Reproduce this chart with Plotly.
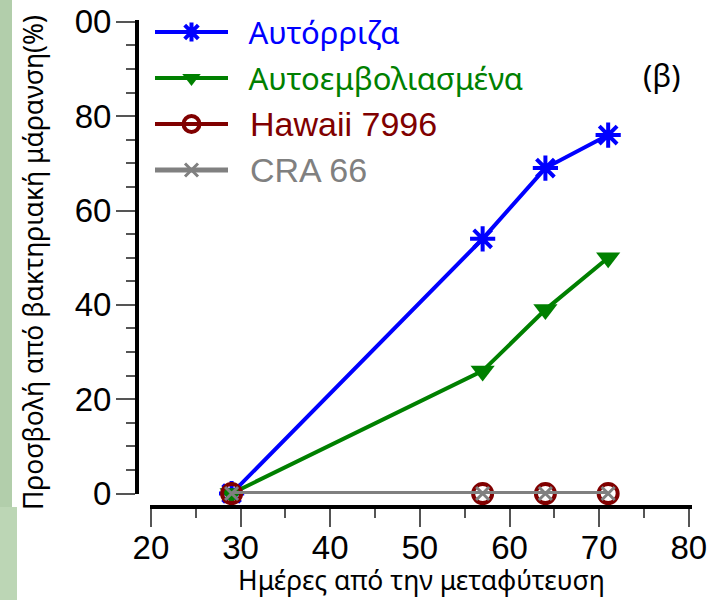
import plotly.graph_objects as go

W, H = 719, 600

days = [29, 57, 64, 71]
series_names = ["Αυτόρριζα", "Αυτοεμβολιασμένα", "Hawaii 7996", "CRA 66"]
own_roots = [0, 54, 69, 76]
grafted = [0, 26, 39, 50]
hawaii = [0, 0, 0, 0]
cra66 = [0, 0, 0, 0]

x_ticks = [20, 30, 40, 50, 60, 70, 80]
x_ticktext = ["20", "30", "40", "50", "60", "70", "80"]
y_ticks = [0, 20, 40, 60, 80, 100]
y_ticktext = ["0", "20", "40", "60", "80", "00"]

GREEK = "Noto Sans"
LATIN = "Liberation Sans, Arial"

colors = ["#0000FF", "#008000", "#800000", "#808080"]


def span(txt, color, family, size):
    return f"<span style='color:{color};font-family:{family};font-size:{size}px'>\u2002{txt}</span>"


fig = go.Figure()
fig.add_trace(go.Scatter(
    x=days, y=own_roots, mode="lines+markers",
    name=span(series_names[0], colors[0], GREEK, 31), legendgroup="a",
    line=dict(color=colors[0], width=4),
    marker=dict(symbol="asterisk-open", size=21, line=dict(color=colors[0], width=4)),
    cliponaxis=False,
))
fig.add_trace(go.Scatter(
    x=days, y=grafted, mode="lines+markers",
    name=span(series_names[1], colors[1], GREEK, 31), legendgroup="b",
    line=dict(color=colors[1], width=4),
    marker=dict(symbol="triangle-down", size=21, color=colors[1]),
    cliponaxis=False,
))
fig.add_trace(go.Scatter(
    x=days, y=hawaii, mode="lines+markers",
    name=span(series_names[2], colors[2], LATIN, 34), legendgroup="c",
    line=dict(color=colors[2], width=4),
    marker=dict(symbol="circle-open", size=19, line=dict(color=colors[2], width=4)),
    cliponaxis=False,
))
fig.add_trace(go.Scatter(
    x=days, y=cra66, mode="lines+markers",
    name=span(series_names[3], colors[3], LATIN, 34), legendgroup="d",
    line=dict(color=colors[3], width=5),
    marker=dict(symbol="x-thin-open", size=13, line=dict(color=colors[3], width=3)),
    cliponaxis=False,
))

fig.update_layout(
    width=W, height=H, autosize=False,
    margin=dict(l=0, r=0, t=0, b=0, autoexpand=False),
    paper_bgcolor="white", plot_bgcolor="rgba(0,0,0,0)",
    font=dict(family=LATIN, color="black", size=33),
    showlegend=True,
    legend=dict(
        x=150 / W, y=1 - 6 / H, xanchor="left", yanchor="top",
        bgcolor="rgba(0,0,0,0)", itemwidth=73, tracegroupgap=4,
        font=dict(family=LATIN, size=30),
        itemsizing="trace",
    ),
    xaxis=dict(
        domain=[150 / W, 692 / W], anchor="free", position=1 - 507 / H,
        range=[19.9, 80.35], tickvals=x_ticks, ticktext=x_ticktext,
        showgrid=False, zeroline=False, automargin=False,
        showline=True, linecolor="black", linewidth=4,
        ticks="outside", ticklen=18, tickwidth=2, tickcolor="#555555",
        minor=dict(dtick=5, tick0=0, ticks="outside", ticklen=9, tickwidth=2, tickcolor="#555555"),
        tickfont=dict(family=LATIN, size=33, color="black"),
        ticklabelstandoff=-8,
    ),
    yaxis=dict(
        domain=[1 - 494 / H, 1 - 20 / H], anchor="free", position=137 / W,
        range=[-0.1, 100.4], tickvals=y_ticks, ticktext=y_ticktext,
        showgrid=False, zeroline=False, automargin=False,
        showline=True, linecolor="black", linewidth=4,
        ticks="outside", ticklen=19, tickwidth=2, tickcolor="#555555",
        minor=dict(dtick=5, tick0=0, ticks="outside", ticklen=9, tickwidth=2, tickcolor="#555555"),
        tickfont=dict(family=LATIN, size=33, color="black"),
        ticklabelstandoff=-2,
    ),
    shapes=[
        dict(type="rect", xref="paper", yref="paper", x0=0, x1=12 / W, y0=1 - 507 / H, y1=1,
             fillcolor="#b2ceab", line=dict(width=0), layer="below"),
        dict(type="rect", xref="paper", yref="paper", x0=0, x1=17 / W, y0=0, y1=1 - 507 / H,
             fillcolor="#bcd6b5", line=dict(width=0), layer="below"),
    ],
    annotations=[
        dict(text="Προσβολή από βακτηριακή μάρανση(%)", xref="paper", yref="paper",
             x=33 / W, y=1 - 263 / H, textangle=-90, showarrow=False,
             font=dict(family=GREEK, size=26.5, color="black"), xanchor="center", yanchor="middle"),
        dict(text="Ημέρες από την μεταφύτευση", xref="paper", yref="paper",
             x=421 / W, y=0, showarrow=False,
             font=dict(family=GREEK, size=26.5, color="black"), xanchor="center", yanchor="bottom"),
        dict(text="(β)", xref="paper", yref="paper",
             x=662 / W, y=1 - 75 / H, showarrow=False,
             font=dict(family=GREEK, size=31, color="black"), xanchor="center", yanchor="middle"),
    ],
)

fig.write_html("out.html")
